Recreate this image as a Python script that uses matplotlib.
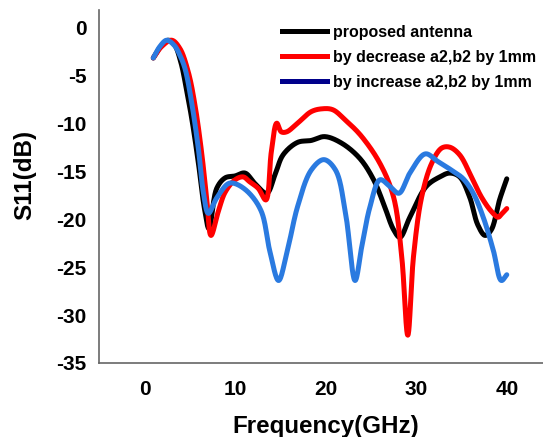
import matplotlib
matplotlib.use("Agg")
import matplotlib.pyplot as plt
from matplotlib.lines import Line2D
import numpy as np

plt.rcParams['font.family'] = ['Liberation Sans', 'DejaVu Sans']

# proposed antenna (black)
x_black = [0.97, 1.8, 2.6, 3.3, 4.0, 4.6, 5.3, 6.0, 6.6, 7.12, 7.97, 8.9, 10.0, 11.1, 12.2, 13.5,
           14.4, 15.3, 16.9, 18.4, 19.9, 21.8, 23.8, 25.3, 26.4, 27.5, 28.2, 29.3, 31.1, 32.6, 33.7,
           34.8, 35.9, 36.8, 37.6, 38.3, 39.2, 40.0]
y_black = [-3.2, -2.0, -1.35, -1.8, -3.6, -6.3, -10.0, -14.5, -18.8, -21.0, -16.8, -15.7, -15.5, -15.2, -16.3, -17.3,
           -15.4, -13.3, -12.0, -11.8, -11.4, -12.1, -13.7, -15.9, -18.4, -21.1, -21.9, -19.8, -16.6, -15.6, -15.2,
           -15.6, -17.7, -20.6, -21.7, -21.1, -18.0, -15.8]

# by decrease a2,b2 by 1mm (red)
x_red = [0.97, 1.9, 3.0, 3.9, 4.83, 5.57, 6.3, 6.86, 7.34, 8.15, 8.9, 10.0, 10.9, 11.6, 12.56, 13.4,
         14.0, 14.6, 15.1, 15.7, 16.9, 18.4, 19.6, 20.8, 22.2, 23.9, 26.0, 27.5, 28.4, 29.07, 29.7,
         30.6, 31.7, 32.8, 33.7, 34.8, 36.1, 37.2, 38.3, 39.05, 39.4, 40.0]
y_red = [-3.2, -2.0, -1.35, -2.2, -4.65, -8.1, -13.0, -17.8, -21.7, -19.2, -17.2, -15.9, -15.6, -16.1, -16.8, -18.0,
         -13.0, -10.0, -10.9, -10.9, -10.0, -8.8, -8.5, -8.6, -9.7, -11.3, -14.2, -17.7, -23.9, -32.1, -23.9,
         -17.7, -14.2, -12.6, -12.5, -13.3, -15.6, -17.7, -19.2, -19.8, -19.5, -18.9]

# by increase a2,b2 by 1mm (blue)
x_blue = [0.97, 1.7, 2.45, 3.3, 3.9, 4.47, 5.2, 5.94, 6.5, 7.05, 7.97, 9.25, 10.0, 11.46, 12.9, 13.85,
          14.8, 15.7, 16.9, 18.4, 19.8, 21.1, 22.2, 23.25, 24.0, 24.9, 26.0, 27.1, 28.1, 29.3, 31.0,
          32.4, 33.9, 35.2, 36.3, 37.4, 38.5, 39.4, 40.0]
y_blue = [-3.2, -2.0, -1.35, -1.9, -2.9, -4.3, -7.8, -12.6, -17.2, -19.4, -17.8, -16.3, -16.3, -17.2, -19.2, -23.4,
          -26.4, -23.6, -18.7, -14.9, -13.8, -14.9, -19.4, -26.4, -22.8, -18.7, -15.9, -16.6, -17.3, -15.2, -13.2,
          -14.0, -14.9, -15.8, -17.3, -19.8, -23.2, -26.4, -25.8]

labels = ["proposed antenna", "by decrease a2,b2 by 1mm", "by increase a2,b2 by 1mm"]
x_ticks = [0, 10, 20, 30, 40]
y_ticks = [0, -5, -10, -15, -20, -25, -30, -35]


def smooth(xs, ys, n=24, alpha=0.5):
    """Centripetal Catmull-Rom rendering through the given points (Excel-like smoothed line)."""
    P = np.column_stack([xs, ys]).astype(float)
    P = np.vstack([2 * P[0] - P[1], P, 2 * P[-1] - P[-2]])
    out = []
    for i in range(1, len(P) - 2):
        p0, p1, p2, p3 = P[i - 1], P[i], P[i + 1], P[i + 2]
        t0 = 0.0
        t1 = t0 + max(np.linalg.norm(p1 - p0), 1e-6) ** alpha
        t2 = t1 + max(np.linalg.norm(p2 - p1), 1e-6) ** alpha
        t3 = t2 + max(np.linalg.norm(p3 - p2), 1e-6) ** alpha
        t = np.linspace(t1, t2, n)[:, None]
        A1 = (t1 - t) / (t1 - t0) * p0 + (t - t0) / (t1 - t0) * p1
        A2 = (t2 - t) / (t2 - t1) * p1 + (t - t1) / (t2 - t1) * p2
        A3 = (t3 - t) / (t3 - t2) * p2 + (t - t2) / (t3 - t2) * p3
        B1 = (t2 - t) / (t2 - t0) * A1 + (t - t0) / (t2 - t0) * A2
        B2 = (t3 - t) / (t3 - t1) * A2 + (t - t1) / (t3 - t1) * A3
        C = (t2 - t) / (t2 - t1) * B1 + (t - t1) / (t2 - t1) * B2
        out.append(C if i == 1 else C[1:])
    C = np.vstack(out)
    return C[:, 0], C[:, 1]


W, H = 543, 437
fig = plt.figure(figsize=(W / 100, H / 100), dpi=100)
L, R, B, T = 98.5, 543, 363, 10
ax = fig.add_axes([L / W, 1 - B / H, (R - L) / W, (B - T) / H])

lw = 3.6
kw = dict(lw=lw, solid_capstyle='round', solid_joinstyle='round')
ax.plot(*smooth(x_black, y_black), color='black', **kw)
ax.plot(*smooth(x_red, y_red), color='#ff0000', **kw)
ax.plot(*smooth(x_blue, y_blue), color='#2a7ae0', **kw)

ax.set_xlim(-5.08, 44.0)
ax.set_ylim(-35, 1.8)
ax.set_xticks(x_ticks)
ax.set_yticks(y_ticks)
ax.set_xticklabels([str(v) for v in x_ticks], fontsize=15, fontweight='bold')
ax.set_yticklabels([str(v) for v in y_ticks], fontsize=15, fontweight='bold')
ax.tick_params(axis='both', length=0)
ax.tick_params(axis='x', pad=12)
ax.tick_params(axis='y', pad=8.6)
for s in ['top', 'right']:
    ax.spines[s].set_visible(False)
for s in ['left', 'bottom']:
    ax.spines[s].set_color('#666666')
    ax.spines[s].set_linewidth(1.2)

ax.set_xlabel("Frequency(GHz)", fontsize=17.4, fontweight='bold')
ax.xaxis.set_label_coords((326 - L) / (R - L), (B - 414.5) / (B - T))
ax.set_ylabel("S11(dB)", fontsize=17.5, fontweight='bold')
ax.yaxis.set_label_coords((36 - L) / (R - L), (B - 175) / (B - T))

handles = [Line2D([], [], color='black', lw=lw),
           Line2D([], [], color='#ff0000', lw=lw),
           Line2D([], [], color='#00008b', lw=lw)]
ax.legend(handles, labels, loc='upper left',
          bbox_to_anchor=((282 - L) / (R - L), 1 - (25 - T) / (B - T)),
          frameon=False, prop={'weight': 'bold', 'size': 11.5},
          handlelength=2.8, handletextpad=0.37, labelspacing=0.62,
          borderaxespad=0, borderpad=0)

fig.savefig("out.png", dpi=100)
